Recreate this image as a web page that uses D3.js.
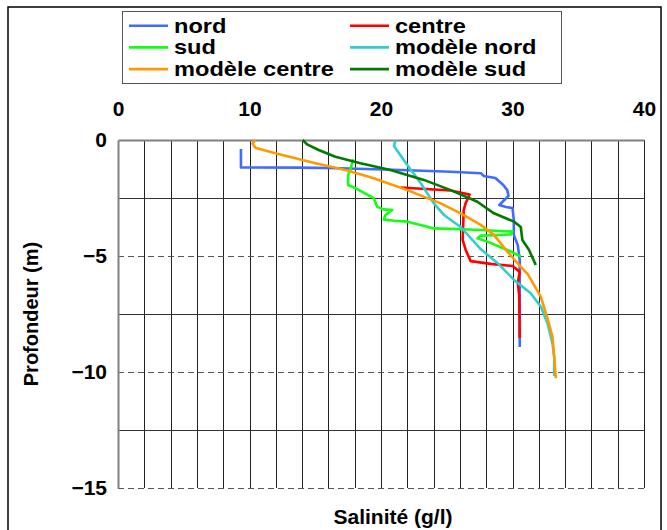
<!DOCTYPE html>
<html>
<head>
<meta charset="utf-8">
<script src="https://cdn.jsdelivr.net/npm/d3@7"></script>
<style>
  body { margin: 0; background: #fff; }
  text { font-family: "Liberation Sans", Arial, sans-serif; font-weight: bold; }
</style>
</head>
<body>
<svg id="chart"></svg>
<script>
// salinity (g/l) vs depth (m, negative downwards)
const xTicks = [0, 10, 20, 30, 40];
const yTicks = [0, -5, -10, -15];

const nordSal   = [9.35, 9.35, 13.9, 16.9, 21.5, 25.3, 27.6, 27.8, 28.7, 29.3, 29.6, 29.7, 29.3, 29.0, 29.5, 30.0, 30.1, 30.1, 30.4, 30.55, 30.55, 30.55];
const nordDepth = [-0.39, -1.18, -1.19, -1.22, -1.29, -1.37, -1.43, -1.55, -1.64, -1.94, -2.16, -2.41, -2.63, -2.80, -2.89, -2.93, -3.45, -4.09, -4.53, -5.17, -6.9, -8.92];

const centreSal   = [21.5, 25.3, 26.74, 26.44, 26.29, 26.21, 26.44, 26.82, 28.34, 30.02, 30.55, 30.4, 30.51, 30.55];
const centreDepth = [-2.05, -2.18, -2.35, -2.72, -3.02, -4.31, -4.74, -5.22, -5.34, -5.43, -5.69, -6.16, -6.68, -8.53];

const sudSal   = [17.88, 17.68, 17.5, 17.5, 17.93, 19.45, 19.71, 20.21, 20.85, 20.34, 20.21, 20.98, 22.0, 23.01, 24.02, 26.19, 27.58, 30.0, 29.87, 27.58, 27.33, 28.09, 29.61, 30.63];
const sudDepth = [-0.83, -1.26, -1.51, -1.94, -2.04, -2.51, -2.88, -2.99, -3.02, -3.23, -3.43, -3.48, -3.52, -3.66, -3.81, -3.85, -3.88, -3.95, -4.07, -4.12, -4.24, -4.38, -4.74, -5.02];

const modNordSal   = [21.1, 20.98, 22.0, 23.01, 24.02, 24.78, 26.06, 27.58, 28.85, 30.12, 31.39, 32.15, 32.66, 33.04, 33.17, 33.17];
const modNordDepth = [-0.02, -0.26, -1.08, -1.85, -2.73, -3.23, -3.75, -4.70, -5.30, -6.03, -6.61, -7.18, -7.90, -8.76, -9.35, -10.17];

const modCentreSal   = [10.44, 10.23, 10.44, 11.96, 13.49, 15.01, 17.3, 19.45, 22.0, 24.53, 26.06, 27.58, 28.59, 29.61, 30.63, 31.16, 32.15, 32.66, 33.04, 33.17, 33.3];
const modCentreDepth = [0, -0.15, -0.33, -0.57, -0.79, -1.0, -1.29, -1.65, -2.16, -2.73, -3.16, -3.66, -4.09, -4.81, -5.47, -5.78, -6.75, -7.69, -8.48, -9.34, -10.27];

const modSudSal   = [14.04, 14.38, 15.26, 16.53, 18.44, 20.72, 23.26, 25.3, 27.33, 28.59, 30.12, 30.63, 30.75, 31.26, 31.77];
const modSudDepth = [0, -0.19, -0.43, -0.72, -1.0, -1.29, -1.72, -2.16, -2.66, -3.16, -3.52, -3.75, -4.31, -4.74, -5.39];

const seriesNames  = ["nord", "centre", "sud", "modèle nord", "modèle centre", "modèle sud"];
const seriesColors = ["#3F6BFF", "#FF0000", "#11FF11", "#33CCCC", "#FF9900", "#007A00"];
const seriesSal    = [nordSal, centreSal, sudSal, modNordSal, modCentreSal, modSudSal];
const seriesDepth  = [nordDepth, centreDepth, sudDepth, modNordDepth, modCentreDepth, modSudDepth];

const W = 667, H = 530;
const svg = d3.select("#chart").attr("width", W).attr("height", H);

// outer frame
svg.append("rect")
  .attr("x", 8).attr("y", 7).attr("width", 653).attr("height", 540)
  .attr("fill", "none").attr("stroke", "#000").attr("stroke-width", 1.5);

const x = d3.scaleLinear().domain([0, 40]).range([118, 644]);
const y = d3.scaleLinear().domain([0, -15]).range([140, 488]);

const grid = svg.append("g");

// vertical grid every 2 g/l
grid.selectAll(".vg")
  .data(d3.range(2, 41, 2))
  .join("line")
    .attr("class", "vg")
    .attr("x1", d => Math.round(x(d)) + 0.5).attr("x2", d => Math.round(x(d)) + 0.5)
    .attr("y1", y(0)).attr("y2", y(-15))
    .attr("stroke", "#222").attr("stroke-width", 1);

// horizontal grid: solid at half steps, dashed at 5 m
grid.selectAll(".hs")
  .data([-2.5, -7.5, -12.5])
  .join("line")
    .attr("class", "hs")
    .attr("x1", x(0)).attr("x2", x(40))
    .attr("y1", d => Math.round(y(d)) + 0.5).attr("y2", d => Math.round(y(d)) + 0.5)
    .attr("stroke", "#333").attr("stroke-width", 1);

grid.selectAll(".hd")
  .data([-5, -10, -15])
  .join("line")
    .attr("class", "hd")
    .attr("x1", x(0)).attr("x2", x(40))
    .attr("y1", d => Math.round(y(d)) + 0.5).attr("y2", d => Math.round(y(d)) + 0.5)
    .attr("stroke", "#555").attr("stroke-width", 1)
    .attr("stroke-dasharray", "6,4");

// axes lines (top and left)
const xAxis = svg.append("g")
  .attr("transform", `translate(0,${y(0)})`)
  .call(d3.axisTop(x).tickValues(xTicks).tickSize(0).tickPadding(24));
xAxis.select(".domain").attr("stroke", "#808080").attr("stroke-width", 2);
xAxis.selectAll("text").attr("font-size", 21).attr("fill", "#000");

const yAxis = svg.append("g")
  .attr("transform", `translate(${x(0)},0)`)
  .call(d3.axisLeft(y).tickValues(yTicks).tickSize(0).tickPadding(11));
yAxis.select(".domain").attr("stroke", "#808080").attr("stroke-width", 2);
yAxis.selectAll("text").attr("font-size", 21).attr("fill", "#000");

// curves
const line = d3.line().x(d => x(d[0])).y(d => y(d[1]));
seriesNames.forEach((name, i) => {
  const pts = seriesSal[i].map((s, j) => [s, seriesDepth[i][j]]);
  svg.append("path")
    .datum(pts)
    .attr("fill", "none")
    .attr("stroke", seriesColors[i])
    .attr("stroke-width", 2.6)
    .attr("stroke-linejoin", "round")
    .attr("d", line);
});

// axis titles
svg.append("text")
  .attr("transform", `translate(38,${(y(0) + y(-15)) / 2}) rotate(-90)`)
  .attr("text-anchor", "middle")
  .attr("font-size", 20)
  .text("Profondeur (m)");

svg.append("text")
  .attr("x", 393).attr("y", 524)
  .attr("text-anchor", "middle")
  .attr("font-size", 21)
  .text("Salinité (g/l)");

// legend (text a bit wider than tall, like the original)
const legend = svg.append("g");
legend.append("rect")
  .attr("x", 122.5).attr("y", 11.5).attr("width", 439).attr("height", 72)
  .attr("fill", "#fff").attr("stroke", "#555").attr("stroke-width", 1);

seriesNames.forEach((name, i) => {
  const col = i % 2, row = Math.floor(i / 2);
  const lx = col === 0 ? 129 : 350;
  const ly = 25.7 + row * 21.7;
  legend.append("line")
    .attr("x1", lx).attr("x2", lx + 39)
    .attr("y1", ly).attr("y2", ly)
    .attr("stroke", seriesColors[i]).attr("stroke-width", 2.6);
  legend.append("text")
    .attr("transform", `translate(${lx + 45},${ly + 7}) scale(1.18,1)`)
    .attr("font-size", 20)
    .text(name);
});
</script>
</body>
</html>
